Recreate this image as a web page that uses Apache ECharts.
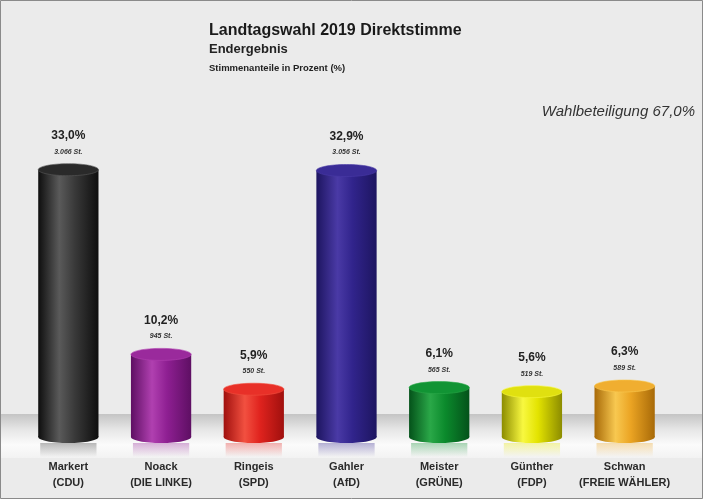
<!DOCTYPE html>
<html>
<head>
<meta charset="utf-8">
<script src="https://cdn.jsdelivr.net/npm/echarts@6/dist/echarts.min.js"></script>
<style>
html,body{margin:0;padding:0;background:#ebebeb;}
#c{width:703px;height:499px;}
</style>
</head>
<body>
<div id="c"></div>
<script>
// ---- data ----
var categories = ['Markert\n(CDU)', 'Noack\n(DIE LINKE)', 'Ringeis\n(SPD)', 'Gahler\n(AfD)', 'Meister\n(GRÜNE)', 'Günther\n(FDP)', 'Schwan\n(FREIE WÄHLER)'];
var percentValues = [33.0, 10.2, 5.9, 32.9, 6.1, 5.6, 6.3];
var voteCounts = [3066, 945, 550, 3056, 565, 519, 589];
var titleText = 'Landtagswahl 2019 Direktstimme';
var subtitleText = 'Endergebnis';
var unitText = 'Stimmenanteile in Prozent (%)';
var turnoutText = 'Wahlbeteiligung 67,0%';

// ---- styles ----
var barColors = [
  {dark:'#0e0e0e', mid:'#3a3a3a', light:'#5a5a5a', top:'#2a2a2a'},
  {dark:'#5e0f63', mid:'#8e1f92', light:'#b040b0', top:'#9a2a9c'},
  {dark:'#a0100e', mid:'#e0231e', light:'#f25040', top:'#e83028'},
  {dark:'#1d1560', mid:'#31248c', light:'#4a3aa6', top:'#3a2c96'},
  {dark:'#04521a', mid:'#0b8a2c', light:'#2aa848', top:'#119434'},
  {dark:'#8c8c00', mid:'#e3e300', light:'#f8f840', top:'#e0e010'},
  {dark:'#a86a08', mid:'#eba423', light:'#f8c850', top:'#f0ae30'}
];
function fmtPct(v){ return v.toFixed(1).replace('.', ','); }
function fmtVotes(v){ return String(v).replace(/\B(?=(\d{3})+(?!\d))/g, '.'); }

var chart = echarts.init(document.getElementById('c'));
var FONT = '"Liberation Sans", Arial, sans-serif';

var option = {
  backgroundColor: '#ebebeb',
  animation: false,
  grid: {left: 22, right: 32, top: 113, bottom: 62},
  xAxis: {
    type: 'category',
    data: categories,
    axisLine: {show: false},
    axisTick: {show: false},
    axisLabel: {
      interval: 0,
      margin: 22,
      fontFamily: FONT,
      fontWeight: 'bold',
      fontSize: 11,
      lineHeight: 16,
      color: '#2a2a2a'
    }
  },
  yAxis: {
    type: 'value',
    min: 0,
    max: 40,
    show: false,
    splitLine: {show: false}
  },
  graphic: [
    {type: 'rect', z: -10, silent: true, shape: {x: 0, y: 414, width: 703, height: 44},
     style: {fill: new echarts.graphic.LinearGradient(0, 0, 0, 1, [
       {offset: 0, color: '#c4c4c4'},
       {offset: 0.35, color: '#e6e6e6'},
       {offset: 0.7, color: '#fbfbfb'},
       {offset: 1, color: '#f2f2f2'}
     ])}},
    {type: 'rect', z: 100, silent: true, shape: {x: 0.5, y: 0.5, width: 702, height: 498},
     style: {fill: 'none', stroke: '#8a8a8a', lineWidth: 1}},
    {type: 'text', left: 209, top: 23, style: {text: titleText, font: 'bold 16px ' + FONT, fill: '#1a1a1a'}},
    {type: 'text', left: 209, top: 43, style: {text: subtitleText, font: 'bold 13px ' + FONT, fill: '#222'}},
    {type: 'text', left: 209, top: 63, style: {text: unitText, font: 'bold 9.5px ' + FONT, fill: '#222'}},
    {type: 'text', right: 8, top: 104, style: {text: turnoutText, font: 'italic 15px ' + FONT, fill: '#333'}}
  ],
  series: [{
    type: 'custom',
    data: percentValues.map(function(v, i){ return [i, v]; }),
    renderItem: function(params, api){
      var i = api.value(0);
      var v = api.value(1);
      var top = api.coord([i, v]);
      var bot = api.coord([i, 0]);
      var band = api.size([1, 0])[0];
      var w = band * 0.65;
      var x = top[0] - w / 2;
      var ry = 6;
      var c = barColors[i];
      var grad = new echarts.graphic.LinearGradient(0, 0, 1, 0, [
        {offset: 0, color: c.dark},
        {offset: 0.35, color: c.light},
        {offset: 0.6, color: c.mid},
        {offset: 1, color: c.dark}
      ]);
      var refl = new echarts.graphic.LinearGradient(0, 0, 0, 1, [
        {offset: 0, color: echarts.color.modifyAlpha(c.mid, 0.35)},
        {offset: 1, color: echarts.color.modifyAlpha(c.mid, 0)}
      ]);
      return {
        type: 'group',
        children: [
          {type: 'rect', shape: {x: x + 2, y: bot[1] + ry, width: w - 4, height: 14}, style: {fill: refl}},
          {type: 'ellipse', shape: {cx: top[0], cy: bot[1], rx: w / 2, ry: ry}, style: {fill: grad}},
          {type: 'rect', shape: {x: x, y: top[1], width: w, height: bot[1] - top[1]}, style: {fill: grad}},
          {type: 'ellipse', shape: {cx: top[0], cy: top[1], rx: w / 2, ry: ry}, style: {fill: c.top, stroke: echarts.color.modifyAlpha(c.light, 0.6), lineWidth: 1}},
          {type: 'text', x: top[0], y: top[1] - 34, style: {text: fmtPct(v) + '%', font: 'bold 12px ' + FONT, fill: '#222', align: 'center', verticalAlign: 'middle'}},
          {type: 'text', x: top[0], y: top[1] - 18, style: {text: fmtVotes(voteCounts[i]) + ' St.', font: 'italic bold 7px ' + FONT, fill: '#333', align: 'center', verticalAlign: 'middle'}}
        ]
      };
    }
  }]
};
chart.setOption(option);
</script>
</body>
</html>
